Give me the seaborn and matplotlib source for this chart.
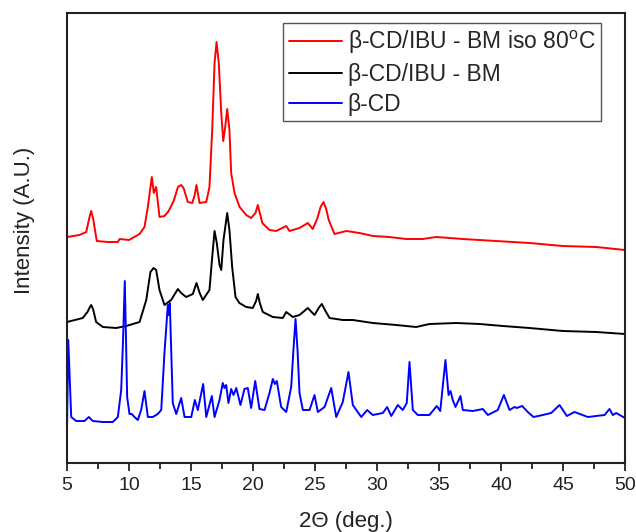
import matplotlib
matplotlib.use("Agg")
import matplotlib.pyplot as plt
from matplotlib.ticker import MultipleLocator, NullLocator
import seaborn as sns
import pandas as pd

# Powder XRD patterns: 2-theta (deg) and intensity (arbitrary units, offset stacked)
red_label = r"β-CD/IBU - BM iso 80$^\mathrm{o}$C"
black_label = "β-CD/IBU - BM"
blue_label = "β-CD"

red_x = [5.0, 6.0, 6.55, 6.8, 6.95, 7.1, 7.40, 8.3, 9.10, 9.25, 10.0, 10.85, 11.25, 11.52, 11.84,
         12.0, 12.19, 12.46, 12.86, 13.2, 13.6, 13.95, 14.21, 14.4, 14.74, 15.1, 15.3, 15.44,
         15.58, 15.69, 16.23, 16.49, 16.71, 16.90, 17.06, 17.24, 17.44, 17.6, 17.76, 17.92,
         18.1, 18.24, 18.51, 18.92, 19.45, 19.85, 20.2, 20.39, 20.55, 20.75, 21.33, 21.87,
         22.68, 22.94, 23.75, 24.42, 24.82, 25.2, 25.45, 25.69, 25.9, 26.11, 26.57, 27.52,
         28.59, 29.66, 31.0, 32.35, 33.69, 34.77, 36.92, 39.61, 42.3, 44.98, 47.68, 50.0]
red_y = [226, 228, 231, 245, 252, 245, 222, 221, 221, 224, 223, 229, 236, 256, 286,
         270, 276, 246, 247, 252, 262, 276, 278, 275, 261, 260, 268, 278,
         268, 260, 261, 276, 333, 400, 421, 400, 350, 322, 336, 354,
         333, 290, 270, 256, 248, 245, 250, 258, 250, 240, 233, 232,
         237, 232, 235, 240, 234, 245, 256, 261, 254, 243, 229, 232,
         230, 227, 226, 224, 224, 226, 224, 222, 220, 217, 216, 213]

black_x = [5.0, 6.27, 6.65, 6.85, 6.95, 7.1, 7.35, 7.89, 8.97, 9.77, 10.85, 11.39, 11.73, 11.98,
           12.19, 12.46, 12.86, 13.40, 13.94, 14.2, 14.61, 15.15, 15.44, 15.7, 15.95, 16.49,
           16.71, 16.9, 17.08, 17.3, 17.44, 17.62, 17.92, 18.1, 18.32, 18.59, 18.9, 19.45,
           19.98, 20.25, 20.39, 20.55, 20.79, 21.6, 22.4, 22.68, 23.21, 23.75, 24.42, 24.96,
           25.35, 25.55, 25.8, 26.17, 27.24, 28.05, 29.66, 31.55, 33.16, 34.23, 36.39, 38.27,
           40.15, 42.3, 44.98, 47.68, 50.0]
black_y = [141, 145, 151, 156, 158, 154, 141, 136, 135, 137, 141, 163, 191, 195,
           193, 173, 158, 163, 174, 170, 166, 169, 180, 170, 163, 173,
           206, 232, 220, 198, 193, 223, 250, 233, 196, 166, 160, 156,
           155, 162, 169, 160, 151, 146, 145, 151, 146, 148, 155, 148,
           156, 159, 153, 145, 143, 143, 140, 138, 136, 139, 140, 139,
           137, 135, 132, 131, 129]

blue_x = [5.0, 5.1, 5.34, 5.74, 6.41, 6.76, 7.08, 7.89, 8.69, 9.10, 9.37, 9.52, 9.66, 9.76,
          9.85, 10.04, 10.23, 10.44, 10.71, 10.98, 11.25, 11.52, 11.92, 12.32, 12.6, 12.86,
          13.13, 13.21, 13.29, 13.53, 13.81, 14.21, 14.48, 15.02, 15.31, 15.55, 15.98, 16.23,
          16.68, 16.9, 17.3, 17.56, 17.7, 17.84, 18.02, 18.24, 18.43, 18.65, 18.99, 19.31,
          19.58, 19.85, 20.18, 20.52, 20.93, 21.33, 21.6, 21.76, 21.92, 22.27, 22.68, 23.08,
          23.26, 23.43, 23.59, 23.75, 24.02, 24.56, 24.96, 25.23, 25.77, 26.31, 26.71, 27.24,
          27.70, 28.05, 28.73, 29.21, 29.66, 30.47, 30.82, 31.15, 31.68, 32.08, 32.40, 32.62,
          32.89, 33.29, 34.23, 34.82, 35.1, 35.52, 35.77, 35.93, 36.11, 36.33, 36.73, 36.92,
          37.73, 38.53, 38.94, 39.74, 40.23, 40.69, 41.09, 41.27, 41.71, 42.16, 42.62, 43.37,
          44.05, 44.72, 45.31, 45.93, 47.0, 47.68, 48.35, 48.75, 49.02, 49.29, 50.0]
blue_y = [33, 123, 46, 42, 42, 46, 42, 41, 41, 46, 73, 123, 182, 123,
          66, 49, 49, 46, 43, 53, 72, 46, 46, 49, 53, 110,
          158, 148, 160, 60, 49, 65, 46, 46, 63, 53, 79, 46,
          67, 46, 63, 80, 75, 78, 60, 74, 68, 75, 58, 74,
          75, 55, 82, 54, 53, 70, 84, 79, 82, 56, 51, 76,
          113, 144, 113, 70, 53, 53, 68, 51, 56, 75, 46, 61,
          91, 58, 46, 53, 48, 50, 56, 47, 58, 53, 60, 101,
          53, 48, 48, 57, 52, 103, 68, 72, 63, 56, 67, 53,
          52, 54, 48, 53, 68, 53, 56, 55, 57, 51, 46, 48,
          50, 58, 47, 51, 46, 47, 48, 54, 48, 50, 45]

x_ticks = [5, 10, 15, 20, 25, 30, 35, 40, 45, 50]

series = [
    (red_label, red_x, red_y, "#ff0000"),
    (black_label, black_x, black_y, "#000000"),
    (blue_label, blue_x, blue_y, "#0000ff"),
]

sns.set_theme(style="ticks")
plt.rcParams["font.family"] = ["Liberation Sans", "DejaVu Sans"]
plt.rcParams["mathtext.fontset"] = "custom"
plt.rcParams["mathtext.rm"] = "Liberation Sans"

fig = plt.figure(figsize=(6.36, 5.32), dpi=100)
ax = fig.add_axes([67 / 636, 69 / 532, 558 / 636, 450 / 532])

for label, xs, ys, color in series:
    df = pd.DataFrame({"two_theta": xs, "intensity": ys})
    sns.lineplot(data=df, x="two_theta", y="intensity", color=color, linewidth=1.4,
                 label=label, ax=ax, sort=False, estimator=None)

ax.set_xlim(5, 50)
ax.set_ylim(0, 450)
ax.set_xticks(x_ticks)
ax.set_xticklabels([str(t) for t in x_ticks])
ax.xaxis.set_minor_locator(MultipleLocator(2.5))
ax.yaxis.set_major_locator(NullLocator())
ax.tick_params(axis="x", which="major", direction="out", length=6, width=1.3,
               labelsize=14, pad=4, color="#222222", labelcolor="#222222")
ax.tick_params(axis="x", which="minor", direction="out", length=4, width=1.3,
               color="#222222")
for side in ["left", "right", "top", "bottom"]:
    ax.spines[side].set_visible(True)
    ax.spines[side].set_linewidth(1.5)
    ax.spines[side].set_color("#222222")

ax.set_xlabel("2Θ (deg.)", fontsize=16, labelpad=12, color="#222222")
ax.set_ylabel("Intensity (A.U.)", fontsize=16, color="#222222")
ax.yaxis.set_label_coords(-0.058, 0.54)

leg = ax.legend(loc="upper right", bbox_to_anchor=(0.957, 0.978), fontsize=16.5,
                frameon=True, fancybox=False, shadow=False, handlelength=2.3,
                handletextpad=0.25, borderpad=0.25, labelspacing=0.3, borderaxespad=0)
leg.get_frame().set_edgecolor("#555555")
leg.get_frame().set_linewidth(1.0)
leg.get_frame().set_facecolor("white")
leg.get_frame().set_alpha(1.0)

fig.savefig("out.png", dpi=100)
